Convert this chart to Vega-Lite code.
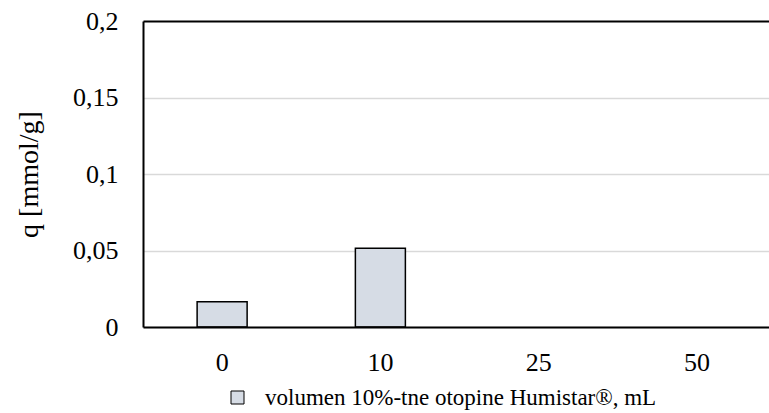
{
  "$schema": "https://vega.github.io/schema/vega-lite/v6.json",
  "autosize": {"type": "none"},
  "width": 626,
  "height": 306,
  "padding": {"left": 143, "top": 21, "right": 0, "bottom": 86},
  "config": {
    "font": "Liberation Serif",
    "view": {"stroke": null}
  },
  "data": {
    "values": [
      {"volumen": "0", "q": 0.0165, "serija": "volumen 10%-tne otopine Humistar®, mL"},
      {"volumen": "10", "q": 0.0514, "serija": "volumen 10%-tne otopine Humistar®, mL"},
      {"volumen": "25", "q": 0, "serija": "volumen 10%-tne otopine Humistar®, mL"},
      {"volumen": "50", "q": 0, "serija": "volumen 10%-tne otopine Humistar®, mL"}
    ]
  },
  "mark": {"type": "bar", "stroke": "black", "strokeWidth": 1.5},
  "encoding": {
    "x": {
      "field": "volumen",
      "type": "ordinal",
      "sort": ["0", "10", "25", "50"],
      "scale": {"range": [0, 633], "paddingInner": 0.684, "paddingOuter": 0.342},
      "axis": {
        "title": null,
        "zindex": 1,
        "labelAngle": 0,
        "labelFont": "Liberation Serif",
        "labelColor": "black",
        "labelFontSize": 26,
        "labelPadding": 22,
        "ticks": false,
        "tickSize": 0,
        "domainColor": "black",
        "domainWidth": 2,
        "grid": false
      }
    },
    "y": {
      "field": "q",
      "type": "quantitative",
      "scale": {"domain": [0, 0.2], "nice": false},
      "axis": {
        "title": "q [mmol/g]",
        "titleFont": "Liberation Serif",
        "titleColor": "black",
        "titleFontSize": 28,
        "titleFontWeight": "normal",
        "titleX": -114,
        "titleY": 153,
        "titleAngle": -90,
        "titleBaseline": "middle",
        "titleAlign": "center",
        "values": [0, 0.05, 0.1, 0.15, 0.2],
        "labelExpr": "replace(toString(datum.value), '.', ',')",
        "labelFont": "Liberation Serif",
        "labelColor": "black",
        "labelFontSize": 26,
        "labelPadding": 25,
        "ticks": false,
        "tickSize": 0,
        "domainColor": "black",
        "domainWidth": 2,
        "grid": true,
        "gridColor": {"condition": {"test": "datum.value >= 0.2", "value": "black"}, "value": "#d9d9d9"},
        "gridWidth": {"condition": {"test": "datum.value >= 0.2", "value": 2}, "value": 1.6}
      }
    },
    "strokeOpacity": {
      "condition": {"test": "datum.q > 0", "value": 1},
      "value": 0
    },
    "color": {
      "field": "serija",
      "type": "nominal",
      "scale": {"range": ["#d6dce5"]},
      "legend": {
        "title": null,
        "orient": "none",
        "legendX": 83,
        "legendY": 365,
        "padding": 0,
        "symbolType": "square",
        "symbolSize": 169,
        "symbolStrokeColor": "black",
        "symbolStrokeWidth": 1,
        "labelFont": "Liberation Serif",
        "labelFontSize": 23,
        "labelColor": "black",
        "labelLimit": 800,
        "labelOffset": 16
      }
    }
  }
}
